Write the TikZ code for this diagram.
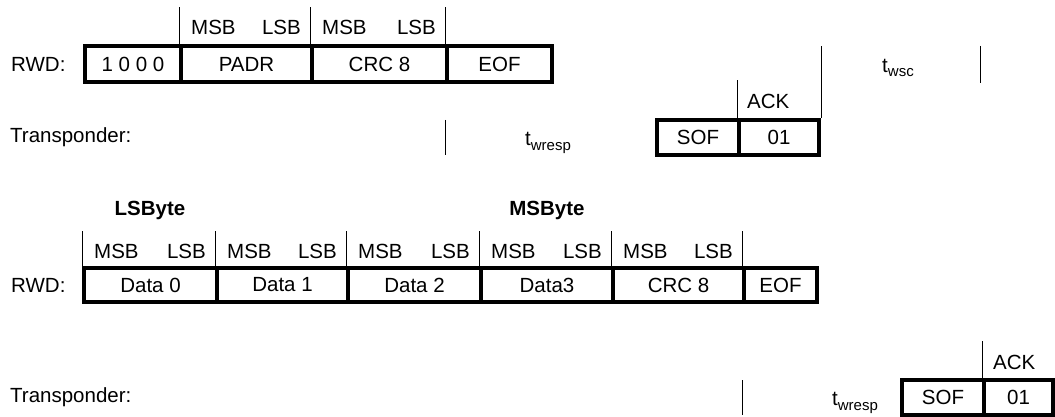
\documentclass[tikz,border=0pt]{standalone}
\usepackage{fontspec}
\setmainfont{Liberation Sans}
\newcommand{\subtxt}[1]{\raisebox{-0.4ex}{\fontsize{15}{15}\selectfont #1}}
\begin{document}
\begin{tikzpicture}[x=1pt,y=-1pt,
  every node/.style={font=\fontsize{20.5}{24}\selectfont, inner sep=0pt},
  fbox/.style={draw, line width=4pt, minimum height=#1pt},
  fbox/.default=36,
  bar/.style={line width=1pt},
  lbl/.style={anchor=west},
  hdr/.style={font=\fontsize{20.5}{24}\selectfont\bfseries}]
\useasboundingbox (0,0) rectangle (1055,417);
% ---------- row 1: RWD
\node[lbl] (rwd1) at (11,64) {RWD:};
\node[fbox, minimum width=96pt]  (r1a) at (133,64)   {1 0 0 0};
\node[fbox, minimum width=131pt] (r1b) at (246.5,64) {PADR};
\node[fbox, minimum width=135pt] (r1c) at (379.5,64) {CRC 8};
\node[fbox, minimum width=105pt] (r1d) at (499.5,64) {EOF};
\draw[bar] (r1b.north west) -- ++(0,-37);
\draw[bar] (r1c.north west) -- ++(0,-37);
\draw[bar] (r1d.north west) -- ++(0,-37);
\node[lbl] (m1) at (191,27) {MSB};
\node[anchor=east] (l1) at (301,27) {LSB};
\node[lbl] (m2) at (322,27) {MSB};
\node[anchor=east] (l2) at (436,27) {LSB};
% t_wsc
\coordinate (w1) at (980,46);
\draw[bar] (w1) -- ++(0,37);
\node (twsc) at (898,68) {t\subtxt{wsc}};
% ---------- row 1: Transponder
\node[lbl] (tr1) at (10,137.5) {Transponder:};
\coordinate (tw1) at (445,120);
\draw[bar] (tw1) -- ++(0,35);
\node (twr1) at (548,143) {t\subtxt{wresp}};
\node[fbox=35, minimum width=82pt] (s1) at (698,137.5) {SOF};
\node[fbox=35, minimum width=80pt] (a1) at (779,137.5) {01};
\draw[bar] (a1.north west) -- ++(0,-38);
\draw[bar] (a1.north east) -- (a1.north east |- w1);
\node[lbl] (ack1) at (747,101) {ACK};
% ---------- row 2: RWD
\node[hdr] (lsbyte) at (150,210) {LSByte};
\node[hdr] (msbyte) at (547,210) {MSByte};
\node[lbl] (rwd2) at (11,285) {RWD:};
\node[fbox=34, minimum width=133pt] (d0) at (150.5,285) {Data 0};
\node[fbox=34, minimum width=131pt] (d1) at (282.5,285) {Data 1};
\node[fbox=34, minimum width=133pt] (d2) at (414.5,285) {Data 2};
\node[fbox=34, minimum width=132pt] (d3) at (547,285)   {Data3};
\node[fbox=34, minimum width=131pt] (d4) at (678.5,285) {CRC 8};
\node[fbox=34, minimum width=73pt]  (d5) at (780.5,285) {EOF};
\foreach \b in {d0,d1,d2,d3,d4,d5} {\draw[bar] (\b.north west) -- ++(0,-35);}
\foreach \l/\r [count=\i] in {84/217,217/348,348/481,481/613,613/744} {
  \node[lbl] (mm\i) at (\l+10,251) {MSB};
  \node[anchor=east] (ll\i) at (\r-11,251) {LSB};
}
% ---------- row 3: Transponder
\node[lbl] (tr2) at (10,397.5) {Transponder:};
\coordinate (tw2) at (742,380);
\draw[bar] (tw2) -- ++(0,35);
\node (twr2) at (855,403) {t\subtxt{wresp}};
\node[fbox=35, minimum width=82pt] (s2) at (943,397.5) {SOF};
\node[fbox=35, minimum width=69pt] (a2) at (1018.5,397.5) {01};
\draw[bar] (a2.north west) -- ++(0,-37);
\node[lbl] (ack2) at (993,362) {ACK};
\end{tikzpicture}
\end{document}
